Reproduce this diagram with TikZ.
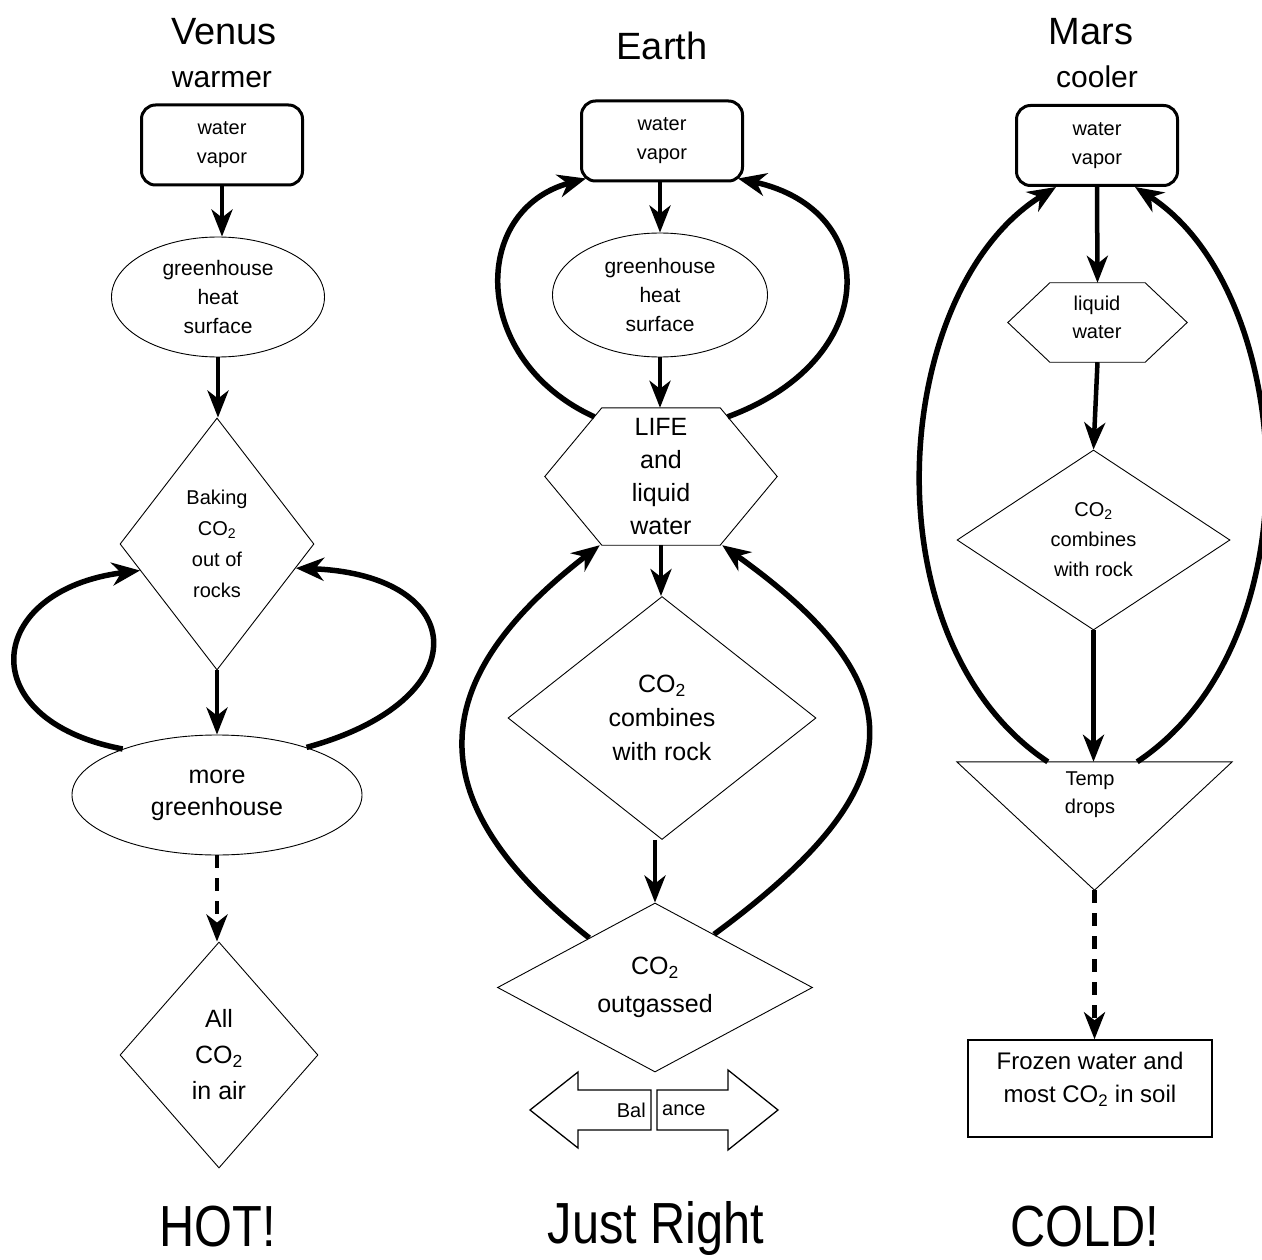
\documentclass[tikz,border=0pt]{standalone}
\usepackage{fontspec}
\setmainfont{Liberation Sans}
\newfontfamily\narrowfont[FakeStretch=0.84]{Liberation Sans}
\usetikzlibrary{shapes.geometric,arrows.meta}
\newcommand{\cotwo}{CO\textsubscript{2}}
\newcommand{\fsz}[2]{\fontsize{#1}{#2}\selectfont}
\tikzset{
  every node/.style={inner sep=0pt, align=center},
  vapor/.style={draw, line width=3pt, rounded corners=14pt, minimum width=161pt, minimum height=80pt, font=\fsz{20}{29}},
  ell/.style={draw, ellipse, line width=0.9pt},
  dia/.style={draw, diamond, line width=0.9pt},
  outl/.style={line width=0.9pt},
  mainarrow/.style={line width=4.5pt, -{Stealth[length=27pt,width=21pt,inset=8pt]}},
  dflow/.style={mainarrow, dash pattern=on 13pt off 10pt},
  fbloop/.style={line width=5.5pt, -{Stealth[length=28pt,width=23pt,inset=9pt]}},
  title/.style={font=\fsz{38}{40}, anchor=base},
  subtitle/.style={font=\fsz{30}{32}, anchor=base},
  verdict/.style={font=\narrowfont\fsz{58}{60}, anchor=base},
}
\begin{document}
\begin{tikzpicture}[x=1pt,y=-1pt]
\fill[white] (0,0) rectangle (1262,1260);
\useasboundingbox (0,0) rectangle (1262,1260);

% ================= VENUS =================
\node[title] (vtitle) at (224,45) {Venus};
\node[subtitle] (vsub) at (222,88) {warmer};
\node[vapor] (vvap) at (222,145) {water\\vapor};
\node[ell, minimum width=213pt, minimum height=120pt, font=\fsz{21}{29}] (vgh) at (218,297) {greenhouse\\heat\\surface};
\node[dia, minimum width=194pt, minimum height=252pt, aspect=0.77, font=\fsz{20}{31}] (vbake) at (217,544) {Baking\\\cotwo\\out of\\rocks};
\node[ell, minimum width=290pt, minimum height=120pt, font=\fsz{25}{32}] (vmore) at (217,795) {more\\greenhouse};
\node[dia, minimum width=198pt, minimum height=226pt, aspect=0.88, font=\fsz{25}{36}] (vall) at (219,1055) {All\\\cotwo\\in air};
\node[verdict] (vhot) at (218,1246) {HOT!};

\draw[mainarrow] (vvap.south) -- (vvap.south |- vgh.north);
\draw[mainarrow] (vgh.south) -- (vgh.south |- vbake.north);
\draw[mainarrow] (vbake.south) -- (vbake.south |- vmore.north);
\draw[dflow] (vmore.south) -- (vmore.south |- vall.north);
\draw[fbloop] (vmore.154) .. controls (-30,720) and (-15,590) .. (vbake.199);
\draw[fbloop] (vmore.28) .. controls (480,700) and (470,575) .. (vbake.-17);

% ================= EARTH =================
\node[title] (etitle) at (662,60) {Earth};
\node[vapor] (evap) at (662,141) {water\\vapor};
\node[ell, minimum width=215pt, minimum height=124pt, font=\fsz{21}{29}] (egh) at (660,295) {greenhouse\\heat\\surface};
\node[minimum width=232pt, minimum height=137pt, font=\fsz{25}{33}] (elife) at (661,476.5) {LIFE\\and\\liquid\\water};
\draw[outl] ([xshift=57pt]elife.north west) -- ([xshift=-57pt]elife.north east) -- (elife.east)
  -- ([xshift=-57pt]elife.south east) -- ([xshift=57pt]elife.south west) -- (elife.west) -- cycle;
\node[dia, minimum width=308pt, minimum height=243pt, aspect=1.27, font=\fsz{25}{34}] (ecomb) at (662,718) {\cotwo\\combines\\with rock};
\node[dia, minimum width=315pt, minimum height=169pt, aspect=1.86, font=\fsz{25}{38}] (eout) at (655,987.5) {\cotwo\\outgassed};
\draw[line width=1.3pt] (651,1090) -- (578,1090) -- (578,1072) -- (530,1110) -- (578,1148) -- (578,1130) -- (651,1130) -- cycle;
\draw[line width=1.3pt] (657,1090) -- (728,1090) -- (728,1070) -- (778,1110) -- (728,1150) -- (728,1130) -- (657,1130) -- cycle;
\node[font=\fsz{20}{20}, anchor=east] (bal1) at (646,1110) {Bal};
\node[font=\fsz{20}{20}, anchor=west] (bal2) at (662,1110) {ance};
\node[verdict] (ejust) at (656,1243) {Just Right};

\draw[mainarrow] (egh.north |- evap.south) -- (egh.north);
\draw[mainarrow] (egh.south) -- (egh.south |- elife.north);
\draw[mainarrow] (elife.south) -- (elife.south |- ecomb.north);
\draw[mainarrow] (eout.north |- ecomb.south) -- (eout.north);
\draw[fbloop] ([xshift=49.5pt,yshift=-9pt]elife.north west) .. controls (470,360) and (470,210) .. ([xshift=6pt,yshift=4pt]evap.south west);
\draw[fbloop] ([xshift=-49.5pt,yshift=-9pt]elife.north east) .. controls (882,360) and (882,210) .. ([xshift=-6pt,yshift=4pt]evap.south east);
\draw[fbloop] (eout.143) .. controls (415,800) and (425,680) .. ([xshift=55pt]elife.south west);
\draw[fbloop] (eout.42) .. controls (910,790) and (925,690) .. ([xshift=-55pt]elife.south east);

% ================= MARS =================
\node[title] (mtitle) at (1091,45) {Mars};
\node[subtitle] (msub) at (1097,88) {cooler};
\node[vapor] (mvap) at (1097,145.5) {water\\vapor};
\node[minimum width=179pt, minimum height=79pt] (mhex) at (1097.5,322.5) {};
\draw[outl] ([xshift=42pt]mhex.north west) -- ([xshift=-42pt]mhex.north east) -- (mhex.east)
  -- ([xshift=-42pt]mhex.south east) -- ([xshift=42pt]mhex.south west) -- (mhex.west) -- cycle;
\node[font=\fsz{20}{28}] (mhextxt) at (1097,317) {liquid\\water};
\node[dia, minimum width=273pt, minimum height=180pt, aspect=1.5, font=\fsz{20}{30}] (mcomb) at (1093.5,540) {\cotwo\\combines\\with rock};
\node[minimum width=275pt, minimum height=128pt] (mtri) at (1094.5,826) {};
\draw[outl] (mtri.north west) -- (mtri.north east) -- (mtri.south) -- cycle;
\node[font=\fsz{20}{28}] (mtemp) at (1090,795) {Temp\\drops};
\node[draw, line width=1.5pt, minimum width=244pt, minimum height=97pt] (mfroz) at (1090,1088.5) {};
\node[font=\fsz{24}{33}] (mfroztxt) at (1090,1079) {Frozen water and\\most \cotwo{} in soil};
\node[verdict] (mcold) at (1085,1246) {COLD!};

\draw[mainarrow] (mvap.south) -- (mhex.north);
\draw[mainarrow] (mhex.south) -- (mcomb.north);
\draw[mainarrow] (mcomb.south) -- (mcomb.south |- mtri.north);
\draw[dflow] (mtri.south) -- (mtri.south |- mfroz.north);
\draw[fbloop] ([xshift=91pt]mtri.north west) .. controls (865,640) and (890,290) .. ([xshift=41pt]mvap.south west);
\draw[fbloop] ([xshift=-95pt]mtri.north east) .. controls (1320,640) and (1295,290) .. ([xshift=-44pt]mvap.south east);
\end{tikzpicture}
\end{document}
